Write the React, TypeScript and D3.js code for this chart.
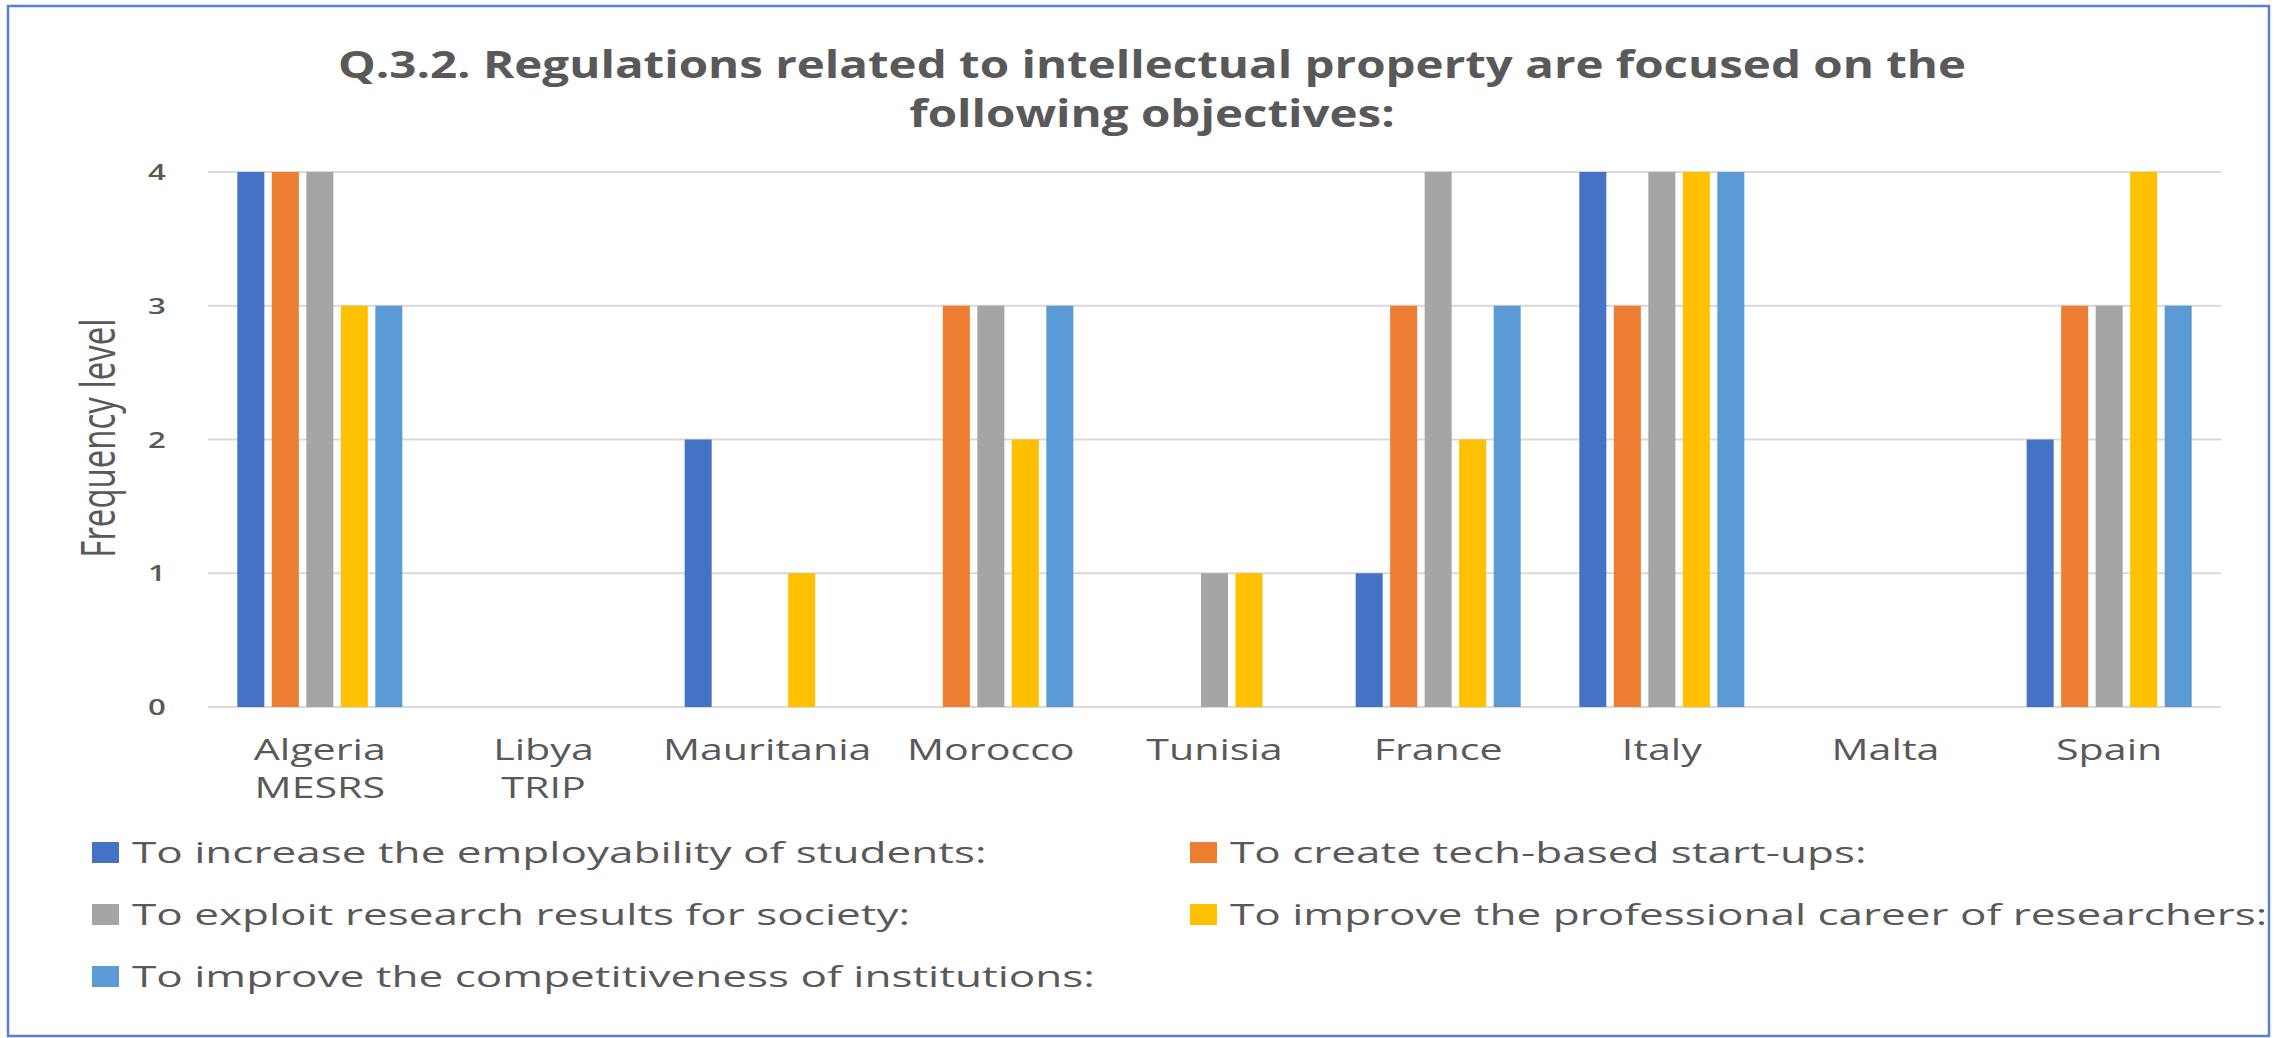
import React from "react";
import * as d3 from "d3";

// ---------- data ----------
const categories: string[][] = [
  ["Algeria", "MESRS"],
  ["Libya", "TRIP"],
  ["Mauritania"],
  ["Morocco"],
  ["Tunisia"],
  ["France"],
  ["Italy"],
  ["Malta"],
  ["Spain"],
];
const seriesNames = [
  "To increase the employability of students:",
  "To create tech-based start-ups:",
  "To exploit research results for society:",
  "To improve the professional career of researchers:",
  "To improve the competitiveness of institutions:",
];
const seriesColors = ["#4472C4", "#ED7D31", "#A5A5A5", "#FFC000", "#5B9BD5"];
const employability = [4, 0, 2, 0, 0, 1, 4, 0, 2];
const startups = [4, 0, 0, 3, 0, 3, 3, 0, 3];
const exploit = [4, 0, 0, 3, 1, 4, 4, 0, 3];
const career = [3, 0, 1, 2, 1, 2, 4, 0, 4];
const competitiveness = [3, 0, 0, 3, 0, 3, 4, 0, 3];
const seriesValues = [employability, startups, exploit, career, competitiveness];
const yTicks = [0, 1, 2, 3, 4];
const titleLines = [
  "Q.3.2. Regulations related to intellectual property are focused on the",
  "following objectives:",
];
const yAxisTitle = "Frequency level";

// ---------- layout ----------
const W = 2279;
const H = 1038;
const plot = { left: 208, right: 2221, top: 172, bottom: 707 };
const FONT = "'Open Sans', 'Segoe UI', sans-serif";
const TEXT = "#595959";
const SX = 1.42; // horizontal stretch of the original screenshot text

export default function App() {
  const catKeys = categories.map((c) => c.join(" "));
  const x0 = d3.scaleBand<string>().domain(catKeys).range([plot.left, plot.right]);
  const x1 = d3
    .scaleBand<number>()
    .domain(d3.range(seriesNames.length))
    .range([0, x0.bandwidth()])
    .paddingInner(0.217)
    .paddingOuter(0.85);
  const y = d3.scaleLinear().domain([0, 4]).range([plot.bottom, plot.top]);

  const legendPos = [
    { x: 92, y: 863 },
    { x: 1190, y: 863 },
    { x: 92, y: 925 },
    { x: 1190, y: 925 },
    { x: 92, y: 987 },
  ];

  return (
    <svg
      width={W}
      height={H}
      style={{ position: "absolute", left: 0, top: 0, display: "block", background: "#fff" }}
    >
      <rect x={0} y={0} width={W} height={H} fill="#fff" />
      <rect x={8} y={6} width={2261} height={1030} fill="none" stroke="#5a80cc" strokeWidth={2.5} />

      {/* title */}
      {titleLines.map((t, i) => (
        <text
          key={i}
          transform={`translate(${1152},${78 + i * 49}) scale(1.25,1)`}
          textAnchor="middle"
          fontFamily={FONT}
          fontWeight={700}
          fontSize={38}
          fill={TEXT}
        >
          {t}
        </text>
      ))}

      {/* gridlines */}
      {yTicks.map((t) => (
        <line
          key={t}
          x1={plot.left}
          x2={plot.right}
          y1={y(t)}
          y2={y(t)}
          stroke="#d9d9d9"
          strokeWidth={2}
        />
      ))}

      {/* y tick labels */}
      {yTicks.map((t) => (
        <text
          key={"yt" + t}
          transform={`translate(${157},${y(t) + 8}) scale(${SX},1)`}
          textAnchor="middle"
          fontFamily={FONT}
          fontWeight={600}
          fontSize={22}
          fill={TEXT}
        >
          {t}
        </text>
      ))}

      {/* y axis title */}
      <text
        transform={`translate(${115},${438}) rotate(-90) scale(1,${SX})`}
        textAnchor="middle"
        fontFamily={FONT}
        fontSize={33}
        fill={TEXT}
      >
        {yAxisTitle}
      </text>

      {/* bars */}
      {catKeys.map((c, ci) => (
        <g key={c}>
          {seriesValues.map((vals, si) => {
            const v = vals[ci];
            return (
              <rect
                key={si}
                x={(x0(c) as number) + (x1(si) as number)}
                y={y(v)}
                width={x1.bandwidth()}
                height={y(0) - y(v)}
                fill={seriesColors[si]}
              />
            );
          })}
        </g>
      ))}

      {/* category labels */}
      {categories.map((lines, ci) => {
        const cx = (x0(catKeys[ci]) as number) + x0.bandwidth() / 2;
        return lines.map((l, li) => (
          <text
            key={ci + "-" + li}
            transform={`translate(${cx},${760 + li * 38}) scale(${SX},1)`}
            textAnchor="middle"
            fontFamily={FONT}
            fontSize={29}
            fill={TEXT}
          >
            {l}
          </text>
        ));
      })}

      {/* legend */}
      {seriesNames.map((name, i) => (
        <g key={name}>
          <rect
            x={legendPos[i].x}
            y={legendPos[i].y - 21}
            width={27}
            height={21}
            fill={seriesColors[i]}
          />
          <text
            transform={`translate(${legendPos[i].x + 40},${legendPos[i].y}) scale(1.52,1)`}
            fontFamily={FONT}
            fontSize={29}
            fill={TEXT}
          >
            {name}
          </text>
        </g>
      ))}
    </svg>
  );
}
